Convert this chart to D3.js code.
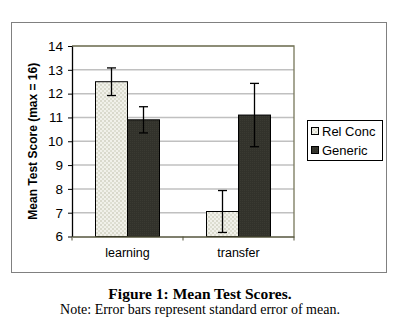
<!DOCTYPE html>
<html>
<head>
<meta charset="utf-8">
<script src="https://cdn.jsdelivr.net/npm/d3@7"></script>
<style>
  html, body { margin: 0; padding: 0; background: #fff; }
  svg { display: block; }
</style>
</head>
<body>
<svg id="chart" width="400" height="331"></svg>
<script>
// Mean test scores per phase and condition, with standard errors
const categories = ["learning", "transfer"];
const seriesNames = ["Rel Conc", "Generic"];
const relConcMeans = [12.5, 7.05];
const genericMeans = [10.9, 11.1];
const relConcSE = [0.58, 0.88];
const genericSE = [0.55, 1.33];
const yTicks = [6, 7, 8, 9, 10, 11, 12, 13, 14];

const svg = d3.select("#chart");

// Pattern fills
const defs = svg.append("defs");
const light = defs.append("pattern")
  .attr("id", "relconc").attr("patternUnits", "userSpaceOnUse")
  .attr("width", 4).attr("height", 4);
light.append("rect").attr("width", 4).attr("height", 4).attr("fill", "#f1f1ea");
light.append("rect").attr("x", 0).attr("y", 0).attr("width", 2).attr("height", 2).attr("fill", "#d9d9cc");
light.append("rect").attr("x", 2).attr("y", 2).attr("width", 2).attr("height", 2).attr("fill", "#dedfd2");
const dark = defs.append("pattern")
  .attr("id", "generic").attr("patternUnits", "userSpaceOnUse")
  .attr("width", 2).attr("height", 2);
dark.append("rect").attr("width", 2).attr("height", 2).attr("fill", "#32322b");
dark.append("rect").attr("width", 1).attr("height", 1).attr("fill", "#3a3a32");

const fills = { "Rel Conc": "url(#relconc)", "Generic": "url(#generic)" };
const sans = "Liberation Sans, Arial, sans-serif";

// Chart frame
svg.append("rect")
  .attr("x", 11.5).attr("y", 22.5).attr("width", 375).attr("height", 250)
  .attr("fill", "#fff").attr("stroke", "#808080").attr("stroke-width", 1);

const plot = { left: 72, top: 46, right: 294, bottom: 236.5 };

const y = d3.scaleLinear().domain([6, 14]).range([plot.bottom, plot.top]);
const x0 = d3.scaleBand().domain(categories).range([plot.left, plot.right]).paddingInner(0).paddingOuter(0);
const x1 = d3.scaleBand().domain(seriesNames).range([x0.bandwidth() / 2 - 32, x0.bandwidth() / 2 + 32]);

// Gridlines
svg.append("g").selectAll("line")
  .data(yTicks.filter(t => t > 6))
  .join("line")
  .attr("x1", plot.left).attr("x2", plot.right)
  .attr("y1", d => y(d)).attr("y2", d => y(d))
  .attr("stroke", "#c0c0c0").attr("stroke-width", 1.5);

// Plot area border (top and right)
svg.append("path")
  .attr("d", `M${plot.left},${plot.top}H${plot.right}V${plot.bottom}`)
  .attr("fill", "none").attr("stroke", "#77775a").attr("stroke-width", 1.3);

// Bars
const rows = categories.map((c, i) => [
  { cat: c, series: "Rel Conc", mean: relConcMeans[i], se: relConcSE[i] },
  { cat: c, series: "Generic", mean: genericMeans[i], se: genericSE[i] }
]).flat();

svg.append("g").selectAll("rect")
  .data(rows)
  .join("rect")
  .attr("x", d => x0(d.cat) + x1(d.series))
  .attr("y", d => y(d.mean))
  .attr("width", x1.bandwidth())
  .attr("height", d => y(6) - y(d.mean))
  .attr("fill", d => fills[d.series])
  .attr("stroke", "#000").attr("stroke-width", 1);

// Error bars
const eb = svg.append("g").attr("stroke", "#000").attr("stroke-width", 1.3);
rows.forEach(d => {
  const cx = x0(d.cat) + x1(d.series) + x1.bandwidth() / 2;
  const yt = y(d.mean + d.se), yb = y(d.mean - d.se);
  eb.append("line").attr("x1", cx).attr("x2", cx).attr("y1", yt).attr("y2", yb);
  eb.append("line").attr("x1", cx - 4.5).attr("x2", cx + 4.5).attr("y1", yt).attr("y2", yt);
  eb.append("line").attr("x1", cx - 4.5).attr("x2", cx + 4.5).attr("y1", yb).attr("y2", yb);
});

// Y axis
const yAxis = svg.append("g")
  .attr("transform", `translate(${plot.left},0)`)
  .call(d3.axisLeft(y).tickValues(yTicks).tickSize(4).tickPadding(5).tickSizeOuter(0));
yAxis.select(".domain").attr("stroke", "#000").attr("stroke-width", 1.3);
yAxis.selectAll(".tick line").attr("stroke", "#000");
yAxis.selectAll(".tick text")
  .attr("font-family", sans).attr("font-size", 13.5).attr("fill", "#000");

// X axis
const xAxis = svg.append("g")
  .attr("transform", `translate(0,${plot.bottom})`)
  .call(d3.axisBottom(x0).tickSize(0).tickPadding(12).tickSizeOuter(0));
xAxis.select(".domain").attr("stroke", "#55553c").attr("stroke-width", 1.3);
xAxis.selectAll(".tick text")
  .attr("font-family", sans).attr("font-size", 12.5).attr("fill", "#000");
// Category boundary tick marks
svg.append("g").selectAll("line")
  .data([...categories.map(c => x0(c)), plot.right])
  .join("line")
  .attr("x1", d => d).attr("x2", d => d)
  .attr("y1", plot.bottom).attr("y2", plot.bottom + 4)
  .attr("stroke", "#55553c").attr("stroke-width", 1);

// Y axis title
svg.append("text")
  .attr("transform", `translate(37,${(plot.top + plot.bottom) / 2}) rotate(-90)`)
  .attr("text-anchor", "middle")
  .attr("font-family", sans)
  .attr("font-weight", "bold").attr("font-size", 12)
  .text("Mean Test Score (max = 16)");

// Legend
const lg = svg.append("g").attr("transform", "translate(307,120)");
lg.append("rect").attr("x", 0.5).attr("y", 0.5).attr("width", 75).attr("height", 40)
  .attr("fill", "#fff").attr("stroke", "#000").attr("stroke-width", 1);
seriesNames.forEach((s, i) => {
  const row = lg.append("g").attr("transform", `translate(4,${7 + i * 19})`);
  row.append("rect").attr("x", 0.5).attr("y", 0.5).attr("width", 7).attr("height", 7)
    .attr("fill", fills[s]).attr("stroke", "#000").attr("stroke-width", 1);
  row.append("text").attr("x", 11).attr("y", 9)
    .attr("font-family", sans).attr("font-size", 13).text(s);
});

// Caption
svg.append("text")
  .attr("x", 200).attr("y", 299).attr("text-anchor", "middle")
  .attr("font-family", "Liberation Serif, Times New Roman, serif")
  .attr("font-weight", "bold").attr("font-size", 15.5)
  .text("Figure 1: Mean Test Scores.");
svg.append("text")
  .attr("x", 200).attr("y", 314).attr("text-anchor", "middle")
  .attr("font-family", "Liberation Serif, Times New Roman, serif")
  .attr("font-size", 14)
  .text("Note: Error bars represent standard error of mean.");
</script>
</body>
</html>
